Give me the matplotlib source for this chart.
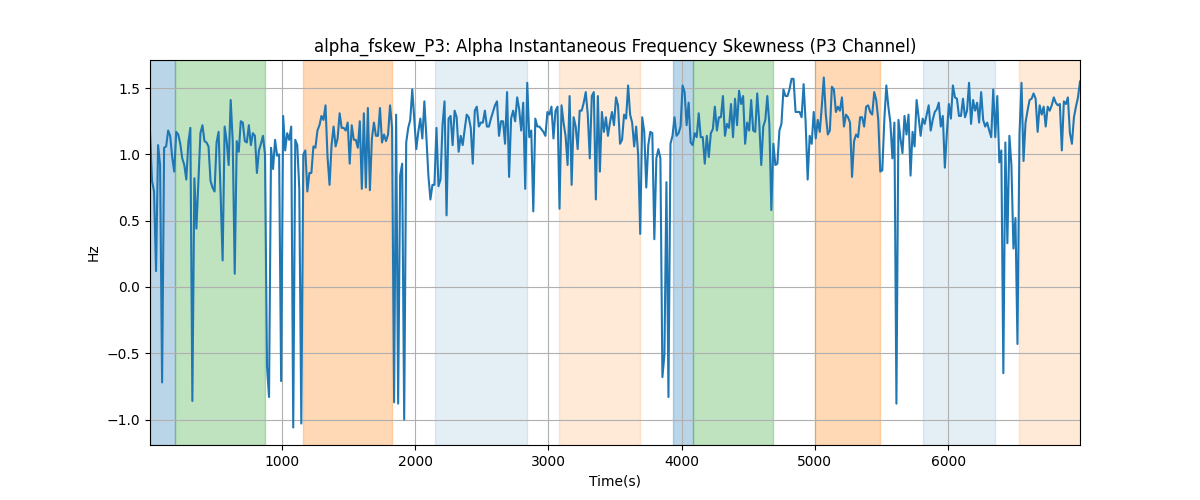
import numpy as np
import matplotlib
matplotlib.use("Agg")
import matplotlib.pyplot as plt

# Signal values (Hz), read left to right
seg1 = [1.17, 0.80, 0.72, 0.12, 1.07, 0.92, -0.72, 1.05, 1.06, 1.18,
        1.14, 0.98, 0.87, 1.17, 1.15, 1.08, 0.97, 0.92, 0.81, 1.09,
        1.20, -0.86, 0.82, 0.44, 0.80, 1.16, 1.22, 1.10, 1.09, 1.06,
        0.80, 0.75, 0.72, 1.09, 1.17, 0.70, 0.20, 1.21, 1.10, 0.92,
        1.41, 1.10, 0.10, 1.10, 1.02, 1.25, 1.24, 1.10, 1.09, 1.22,
        1.07, 1.16, 1.14, 0.86, 1.03, 1.08, 1.14, 1.00, -0.60, -0.83,
        1.05, 0.89, 1.11, 0.99, 1.00, -0.71, 1.29, 1.03, 1.16, 1.11,
        1.21, -1.06, 1.11, 1.07, 0.74]
seg2 = [-1.03, 1.00, 1.03, 0.72, 0.86, 0.86, 1.06, 1.05, 1.18, 1.22,
        1.29, 1.26, 1.37, 0.98, 0.77, 1.07, 1.21, 1.06, 1.12, 1.31,
        1.20, 1.20, 1.18, 1.24, 0.93, 1.22, 1.11, 1.11, 1.05, 1.25,
        0.74, 1.31, 0.75, 1.35, 0.73, 1.12, 1.24, 1.14, 1.14, 1.35,
        1.09, 1.15, 1.10, 1.15, 1.37, 1.20, -0.87, 1.30, -0.88, 0.84,
        0.93, -1.00, 1.09, 1.20, 1.26, 1.49, 1.27, 1.04, 1.17, 1.27,
        1.12, 1.40, 1.13, 0.84, 0.66, 0.77, 0.77, 1.20, 0.76, 0.81,
        1.22, 1.40, 0.54]
seg3 = [1.27, 1.29, 1.07, 1.33, 1.28, 1.02, 1.14, 1.07, 1.19, 1.30,
        1.28, 1.20, 0.93, 1.33, 1.36, 1.21, 1.24, 1.24, 1.33, 1.21,
        1.21, 1.27, 1.32, 1.37, 1.40, 1.14, 1.25, 1.25, 1.08, 1.47,
        0.83, 1.27, 1.33, 1.25, 1.43, 1.34, 1.18, 1.39, 0.74, 1.54,
        1.13, 1.18, 0.57, 1.27, 1.21, 1.21, 1.19, 1.17, 1.14, 1.32,
        1.30, 1.36, 1.12, 1.33, 1.36, 0.59, 1.37, 1.24, 1.14, 0.92,
        1.44, 0.77, 1.28, 1.21, 1.04, 1.33, 1.33, 1.39, 1.47, 1.30,
        0.97, 1.44, 1.47, 0.66]
seg4 = [1.44, 0.87, 1.32, 1.17, 1.28, 1.14, 1.24, 1.32, 1.22, 1.43,
        1.37, 1.08, 1.11, 1.30, 1.27, 1.52, 1.30, 1.24, 1.06, 1.21,
        0.99, 0.40, 1.28, 1.17, 0.75, 1.07, 1.17, 1.16, 0.36, 0.97,
        1.04, 0.97, -0.68, -0.51, 0.79, -0.83, 1.08, 1.14, 1.28, 1.14,
        1.16, 1.21, 1.52, 1.47, 1.22, 1.39, 1.09, 1.07, 1.16, 1.13,
        1.31, 1.13, 1.13, 0.93, 1.14, 0.98, 1.16, 1.19, 1.36, 1.18,
        1.28, 1.28, 1.44, 1.14, 1.23, 1.20, 1.38, 1.13, 1.42, 1.22,
        1.48, 1.38, 1.44, 1.08, 1.24]
seg5 = [1.18, 1.41, 1.18, 1.17, 1.46, 1.24, 0.92, 1.21, 1.26, 1.44,
        1.23, 0.58, 1.08, 0.92, 0.93, 1.18, 1.23, 1.49, 1.44, 1.44,
        1.49, 1.57, 1.57, 1.32, 1.32, 1.32, 1.28, 1.53, 1.24, 0.81,
        1.14, 1.08, 1.32, 1.12, 1.26, 1.17, 1.36, 1.58, 1.30, 1.15,
        1.18, 1.51, 1.49, 1.32, 1.36, 1.33, 1.43, 1.21, 1.30, 1.28,
        1.24, 0.83, 1.10, 1.15, 1.13, 1.28, 1.28, 1.21, 1.36, 1.37,
        1.32, 1.30, 1.47, 1.41, 1.26, 0.87, 0.88, 1.26, 1.52, 1.36,
        1.24, 0.97, 1.24, -0.88, 1.26]
seg6 = [1.12, 1.01, 1.29, 1.15, 1.30, 0.84, 1.17, 1.06, 1.41,
        1.28, 1.14, 1.27, 1.23, 1.30, 1.37, 1.18, 1.26, 1.32, 1.34,
        1.39, 1.21, 1.29, 0.90, 1.16, 1.38, 1.27, 1.52, 1.43, 1.42,
        1.29, 1.29, 1.42, 1.28, 1.33, 1.54, 1.23, 1.41, 1.33, 1.39,
        1.24, 1.47, 1.26, 1.21, 1.24, 1.18, 1.13, 1.49, 1.13, 1.44,
        0.94, 1.03, -0.65, 1.09, 0.33, 1.14, 0.92, 0.29, 0.52, -0.43,
        1.15, 1.54, 0.95, 1.24, 1.33, 1.41, 1.42, 1.46, 1.42, 1.17,
        1.37, 1.30, 1.36, 1.21, 1.36, 1.33, 1.37, 1.43, 1.39, 1.37,
        1.38, 1.03, 1.40, 1.38, 1.43, 1.16, 1.08, 1.28, 1.36, 1.43,
        1.55]
values = np.array(seg1 + seg2 + seg3 + seg4 + seg5 + seg6)

t_start, t_end = 9, 6990
time = np.linspace(t_start, t_end, len(values))

# Shaded segments: (start, end, color, alpha)
span_starts = [9, 197, 1158, 2149, 3080, 3935, 4086, 5002, 5812, 6533]
span_ends = [197, 872, 1826, 2839, 3688, 4086, 4686, 5490, 6353, 6990]
span_colors = ["tab:blue", "tab:green", "tab:orange", "tab:blue", "tab:orange",
               "tab:blue", "tab:green", "tab:orange", "tab:blue", "tab:orange"]
span_alphas = [0.3, 0.3, 0.3, 0.12, 0.16, 0.3, 0.3, 0.3, 0.12, 0.16]

fig, ax = plt.subplots(figsize=(12, 5), dpi=100)
for s, e, c, a in zip(span_starts, span_ends, span_colors, span_alphas):
    ax.axvspan(s, e, color=c, alpha=a)
ax.plot(time, values, color="tab:blue", linewidth=1.5)
ax.set_xlim(t_start, t_end)
ax.grid(True)
ax.set_title("alpha_fskew_P3: Alpha Instantaneous Frequency Skewness (P3 Channel)")
ax.set_xlabel("Time(s)")
ax.set_ylabel("Hz")
fig.savefig("out.png", dpi=100)
